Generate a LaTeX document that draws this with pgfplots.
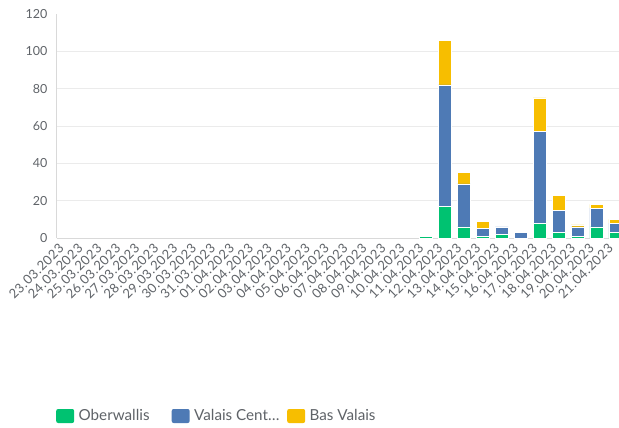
\documentclass[border=0pt]{standalone}
\usepackage{pgfplots}
\pgfplotsset{compat=1.18}
\usepackage{pgfplotstable}
\usepackage{fontspec}
\setmainfont{Lato}
\newfontfamily\lblfont[LetterSpace=4]{Lato}
\definecolor{cg}{HTML}{00C271}
\definecolor{cb}{HTML}{4E7AB5}
\definecolor{cy}{HTML}{F7BE00}
\definecolor{txt}{HTML}{5F6368}
\definecolor{gridc}{HTML}{EBEBEB}
\definecolor{axc}{HTML}{D9D9D9}
\pgfplotstableread{
x g b y
19 1 0 0
20 17 65 24
21 6 23 6
22 1 4 4
23 2 4 0
24 0 3 0
25 8 49 18
26 3 12 8
27 1 5 1
28 6 10 2
29 3 5 2
}\data
\begin{document}
\begin{tikzpicture}
\begin{axis}[
  at={(0,0)}, anchor=south west,
  scale only axis, width=562pt, height=224pt,
  xmin=-0.486, xmax=29.19, ymin=0, ymax=120,
  ybar stacked, bar width=13pt,
  ytick={0,20,...,100},
  extra y ticks={120}, extra y tick style={grid=none},
  ymajorgrids, grid style={gridc, line width=0.8pt},
  xtick={0,...,29},
  xticklabels={23.03.2023,24.03.2023,25.03.2023,26.03.2023,27.03.2023,28.03.2023,29.03.2023,30.03.2023,31.03.2023,01.04.2023,02.04.2023,03.04.2023,04.04.2023,05.04.2023,06.04.2023,07.04.2023,08.04.2023,09.04.2023,10.04.2023,11.04.2023,12.04.2023,13.04.2023,14.04.2023,15.04.2023,16.04.2023,17.04.2023,18.04.2023,19.04.2023,20.04.2023,21.04.2023},
  xticklabel style={rotate=45, anchor=east, font=\lblfont\fontsize{13}{13}\selectfont, text=txt, inner sep=1pt, xshift=-8pt, yshift=-2.5pt},
  yticklabel style={font=\fontsize{12.5}{13}\selectfont, text=txt, xshift=-6pt},
  /pgf/number format/assume math mode=true,
  axis x line*=bottom, axis y line*=left,
  axis line style={axc, line width=1pt, -},
  major tick length=0pt,
  clip=true,
  legend style={at={(rel axis cs:0,0)}, anchor=west, xshift=-4pt, yshift=-178pt, draw=none,
    font=\fontsize{15.2}{17}\selectfont, text=txt,
    /tikz/every even column/.append style={column sep=0pt}},
  legend columns=-1,
  legend image code/.code={\fill[#1, draw=none, rounded corners=2pt] (0pt,-7pt) rectangle (18pt,7pt);},
]
\addplot[fill=cg, draw=white, line width=0.6pt] table[x=x,y=g]{\data};
\addplot[fill=cb, draw=white, line width=0.6pt] table[x=x,y=b]{\data};
\addplot[fill=cy, draw=white, line width=0.6pt] table[x=x,y=y]{\data};
\legend{\makebox[93.5pt][l]{\hspace{2.5pt}Oberwallis}, \makebox[93.5pt][l]{\hspace{2.5pt}Valais Cent…}, \makebox[93.5pt][l]{\hspace{2.5pt}Bas Valais}}
\end{axis}
\pgfresetboundingbox
\path (-57pt,-190pt) rectangle (562pt,238pt);
\end{tikzpicture}
\end{document}
